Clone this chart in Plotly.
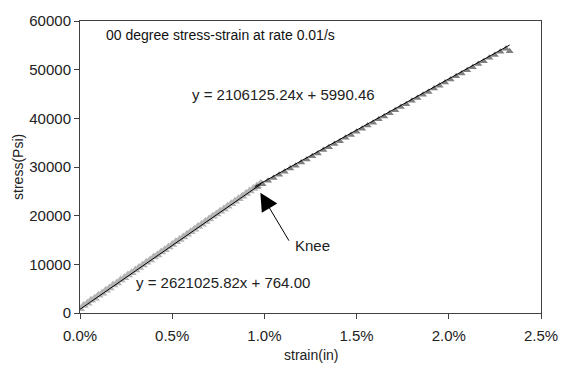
import plotly.graph_objects as go

# ---- data ----
pre_strain = [0.0000, 0.0002, 0.0004, 0.0006, 0.0008, 0.0010, 0.0012, 0.0014, 0.0016, 0.0018,
              0.0020, 0.0022, 0.0024, 0.0026, 0.0028, 0.0030, 0.0032, 0.0034, 0.0036, 0.0038,
              0.0040, 0.0042, 0.0044, 0.0046, 0.0048, 0.0050, 0.0052, 0.0054, 0.0056, 0.0058,
              0.0060, 0.0062, 0.0064, 0.0066, 0.0068, 0.0070, 0.0072, 0.0074, 0.0076, 0.0078,
              0.0080, 0.0082, 0.0084, 0.0086, 0.0088, 0.0090, 0.0092, 0.0094, 0.0096, 0.0098]
pre_stress = [850, 1550, 1990, 2620, 3030, 3650, 4070, 4670, 5120, 5740,
              6160, 6780, 7240, 7810, 8260, 8860, 9350, 9840, 10430, 10880,
              11510, 11930, 12530, 13020, 13570, 14050, 14620, 15120, 15640, 16160,
              16720, 17200, 17780, 18240, 18800, 19300, 19860, 20340, 20900, 21390,
              21920, 22450, 22970, 23500, 24010, 24550, 25060, 25600, 26080, 26620]

post_strain = [0.0096, 0.0099, 0.0102, 0.0105, 0.0108, 0.0111, 0.0114, 0.0117, 0.0120, 0.0123,
               0.0126, 0.0129, 0.0132, 0.0135, 0.0138, 0.0141, 0.0144, 0.0147, 0.0150, 0.0153,
               0.0156, 0.0159, 0.0162, 0.0165, 0.0168, 0.0171, 0.0174, 0.0177, 0.0180, 0.0183,
               0.0186, 0.0189, 0.0192, 0.0195, 0.0198, 0.0201, 0.0204, 0.0207, 0.0210, 0.0213,
               0.0216, 0.0219, 0.0222, 0.0225, 0.0228, 0.0231, 0.0233]
post_stress = [25900, 26480, 27150, 27730, 28420, 29010, 29690, 30260, 30950, 31530,
               32200, 32790, 33480, 34050, 34740, 35310, 36000, 36580, 37260, 37850,
               38520, 39110, 39790, 40370, 41060, 41640, 42320, 42900, 43590, 44170,
               44850, 45430, 46110, 46690, 47380, 47960, 48640, 49220, 49900, 50480,
               51170, 51750, 52430, 53010, 53690, 54280, 53800]

# trendline coefficients (slope, intercept) and ranges as printed on the chart
fit1_slope, fit1_intercept = 2621025.82, 764.00
fit1_range = [0.0, 0.0098]
fit2_slope, fit2_intercept = 2106125.24, 5990.46
fit2_range = [0.0095, 0.0233]

title_text = "00 degree stress-strain at rate 0.01/s"
eq1_text = "y = 2106125.24x + 5990.46"
eq2_text = "y = 2621025.82x + 764.00"
knee_text = "Knee"
x_ticks = [0.0, 0.005, 0.010, 0.015, 0.020, 0.025]
y_ticks = [0, 10000, 20000, 30000, 40000, 50000, 60000]

FONT = "Liberation Sans, Arial, sans-serif"

fig = go.Figure()
fig.add_trace(go.Scatter(x=pre_strain, y=pre_stress, mode="markers",
                         marker=dict(symbol="triangle-up", size=9, color="#b4b4b4"),
                         showlegend=False))
fig.add_trace(go.Scatter(x=post_strain, y=post_stress, mode="markers",
                         marker=dict(symbol="triangle-up", size=7, color="#808080"),
                         showlegend=False))
fig.add_trace(go.Scatter(x=fit1_range,
                         y=[fit1_slope * v + fit1_intercept for v in fit1_range],
                         mode="lines", line=dict(color="black", width=1), showlegend=False))
fig.add_trace(go.Scatter(x=fit2_range,
                         y=[fit2_slope * v + fit2_intercept for v in fit2_range],
                         mode="lines", line=dict(color="black", width=1), showlegend=False))

tf = dict(family=FONT, size=15, color="#222222")
fig.add_annotation(x=0.00128, y=57200, text=title_text, showarrow=False,
                   xanchor="left", yanchor="middle", font=dict(family=FONT, size=14, color="#111111"))
fig.add_annotation(x=0.00598, y=44850, text=eq1_text, showarrow=False,
                   xanchor="left", yanchor="middle", font=tf)
fig.add_annotation(x=0.00294, y=6180, text=eq2_text, showarrow=False,
                   xanchor="left", yanchor="middle", font=tf)
fig.add_annotation(x=0.01154, y=13950, text=knee_text, showarrow=False,
                   xanchor="left", yanchor="middle", font=tf)
fig.add_annotation(x=0.00978, y=24718, ax=0.01138, ay=14552, axref="x", ayref="y",
                   text="", showarrow=True, arrowhead=2, arrowsize=3.6, arrowwidth=1,
                   arrowcolor="black")

# axis titles
fig.add_annotation(x=-0.1346, y=0.5, xref="paper", yref="paper", text="stress(Psi)",
                   textangle=-90, showarrow=False, xanchor="center", yanchor="middle",
                   font=dict(family=FONT, size=14, color="#222222"))
fig.add_annotation(x=0.5, y=-0.143, xref="paper", yref="paper", text="strain(in)",
                   showarrow=False, xanchor="center", yanchor="middle",
                   font=dict(family=FONT, size=14, color="#222222"))

fig.update_xaxes(range=[0, 0.025], tickvals=x_ticks, tickformat=".1%",
                 showgrid=False, zeroline=False, showline=True, linecolor="#404040",
                 linewidth=1, mirror=True, ticks="outside", ticklen=5, tickcolor="#404040",
                 ticklabelstandoff=4, tickfont=tf)
fig.update_yaxes(range=[0, 60000], tickvals=y_ticks, tickformat="d",
                 showgrid=False, zeroline=False, showline=True, linecolor="#404040",
                 linewidth=1, mirror=True, ticks="outside", ticklen=5, tickcolor="#404040",
                 tickfont=tf)
fig.update_layout(width=570, height=369, margin=dict(l=80, r=22, t=12, b=56),
                  paper_bgcolor="white", plot_bgcolor="white")

fig.write_html("out.html", config={"displayModeBar": False},
               post_script="document.body.style.margin='0';")
